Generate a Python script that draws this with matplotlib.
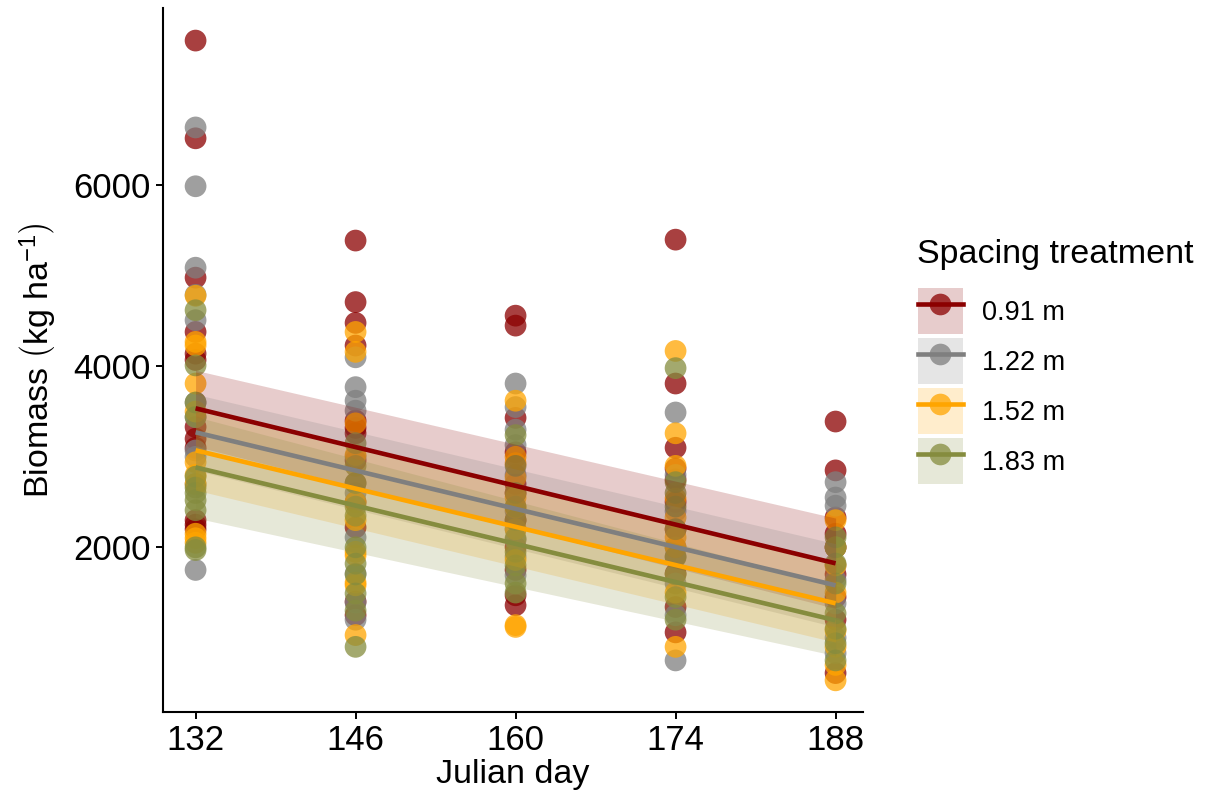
import numpy as np
import matplotlib
matplotlib.use("Agg")
import matplotlib.pyplot as plt
from matplotlib.lines import Line2D
from matplotlib.patches import Patch

plt.rcParams["font.family"] = ["Liberation Sans", "DejaVu Sans"]
plt.rcParams["mathtext.fontset"] = "custom"
plt.rcParams["mathtext.rm"] = "Liberation Sans"
plt.rcParams["mathtext.it"] = "Liberation Sans:italic"
plt.rcParams["mathtext.default"] = "regular"

days = [132, 146, 160, 174, 188]
spacings = ["0.91 m", "1.22 m", "1.52 m", "1.83 m"]
colors = ["#8B0000", "#7F7F7F", "#FFA500", "#858C3E"]

# Biomass (kg/ha) observations per spacing, one list per sampling day
biomass_091 = [
    [7600, 6520, 4980, 4380, 4140, 4070, 3330, 3200, 3100, 2300, 2250, 2200],
    [5390, 4710, 4480, 4230, 3400, 3320, 3260, 2960, 2500, 2220, 1250, 1400],
    [4560, 4450, 3430, 3050, 2600, 2300, 1750, 1470, 1360, 2000, 2700],
    [5400, 3810, 3100, 2870, 2750, 1710, 1340, 1060, 2200, 2500],
    [3390, 2850, 2330, 1450, 610, 2000, 1700, 1200, 2150],
]
biomass_122 = [
    [6640, 5990, 5090, 4790, 4510, 3600, 3440, 3070, 3000, 2700, 1750],
    [4100, 3770, 3620, 3510, 2710, 2110, 1710, 1390, 1200, 2600, 3000],
    [3810, 3550, 3130, 2080, 1690, 2400, 2800, 1900, 3300, 2200],
    [3490, 2400, 1600, 1250, 750, 2000, 2800, 1900],
    [2720, 2550, 2460, 1640, 1380, 1000, 830, 2000, 1800],
]
biomass_152 = [
    [4780, 4270, 4230, 3810, 3500, 2940, 2800, 2700, 2150, 2100, 2050],
    [4380, 4160, 3370, 3020, 2500, 1910, 1610, 1580, 1030, 2300, 1950],
    [3620, 2930, 2770, 2550, 2440, 1860, 1140, 1120, 3000, 2200],
    [4170, 3260, 2540, 2330, 2110, 900, 1500, 2900, 2000],
    [2300, 2000, 1080, 530, 700, 1500, 1800, 900],
]
biomass_183 = [
    [4620, 4010, 3600, 3440, 2780, 2660, 2520, 2410, 2000, 1970, 2600],
    [3150, 2710, 2350, 1820, 1490, 900, 2000, 2450, 1700, 1300, 2900],
    [3240, 2300, 1600, 2100, 2900, 1800, 2600, 1500, 2450, 1950],
    [3980, 2720, 1890, 1450, 2600, 1200, 2200, 1700, 2450],
    [2110, 1820, 1270, 940, 1600, 750, 1100, 2000],
]
observations = [biomass_091, biomass_122, biomass_152, biomass_183]

# Fitted linear trend (value at first and last day) and 95% CI half-widths
fit_start = [3536, 3271, 3072, 2884]
fit_end = [1823, 1580, 1381, 1193]
ci_start = [420, 420, 440, 560]
ci_end = [500, 460, 430, 390]

fig = plt.figure(figsize=(12.06, 7.99), dpi=100)
ax = fig.add_axes([163 / 1206, 1 - 712 / 799, 700 / 1206, 704 / 799])

for obs, col in zip(observations, colors):
    for day, vals in zip(days, obs):
        ax.scatter([day] * len(vals), vals, s=245, color=col, alpha=0.75,
                   edgecolors="none", zorder=2)

x_fit = np.array([days[0], days[-1]], dtype=float)
for i, col in enumerate(colors):
    y_fit = np.array([fit_start[i], fit_end[i]], dtype=float)
    hw = np.array([ci_start[i], ci_end[i]], dtype=float)
    ax.fill_between(x_fit, y_fit - hw, y_fit + hw, color=col, alpha=0.2,
                    linewidth=0, zorder=3)
    ax.plot(x_fit, y_fit, color=col, lw=3.3, zorder=4, solid_capstyle="butt")

ax.set_xlim(129.15, 190.4)
ax.set_ylim(180, 7960)
ax.set_xticks(days)
ax.set_yticks([2000, 4000, 6000])
ax.tick_params(labelsize=25, length=5, width=1.4, colors="black", pad=4)
for side in ["top", "right"]:
    ax.spines[side].set_visible(False)
for side in ["left", "bottom"]:
    ax.spines[side].set_linewidth(1.5)

ax.set_xlabel("Julian day", fontsize=24.5, labelpad=1)
ax.set_ylabel(r"Biomass $\left(kg\ ha^{-1}\right)$", fontsize=24.5,
              labelpad=10)

# Legend: title as its own text, keys combine CI band, trend line and point
fig.text(917 / 1206, 1 - 255 / 799, "Spacing treatment", fontsize=24.5,
         ha="left", va="center")
handles = [
    (Patch(facecolor=col, alpha=0.2, edgecolor="none"),
     Line2D([0], [0], color=col, lw=3.3),
     Line2D([0], [0], marker="o", ls="none", markersize=15.6,
            markerfacecolor=col, markeredgecolor="none", alpha=0.75))
    for col in colors
]
fig.legend(handles, spacings, loc="upper left",
           bbox_to_anchor=(918 / 1206, 1 - 288 / 799),
           frameon=False, fontsize=19.5,
           handlelength=1.65, handleheight=2.25, labelspacing=0.14,
           handletextpad=0.72, borderpad=0, borderaxespad=0)

fig.savefig("out.png", dpi=100)
